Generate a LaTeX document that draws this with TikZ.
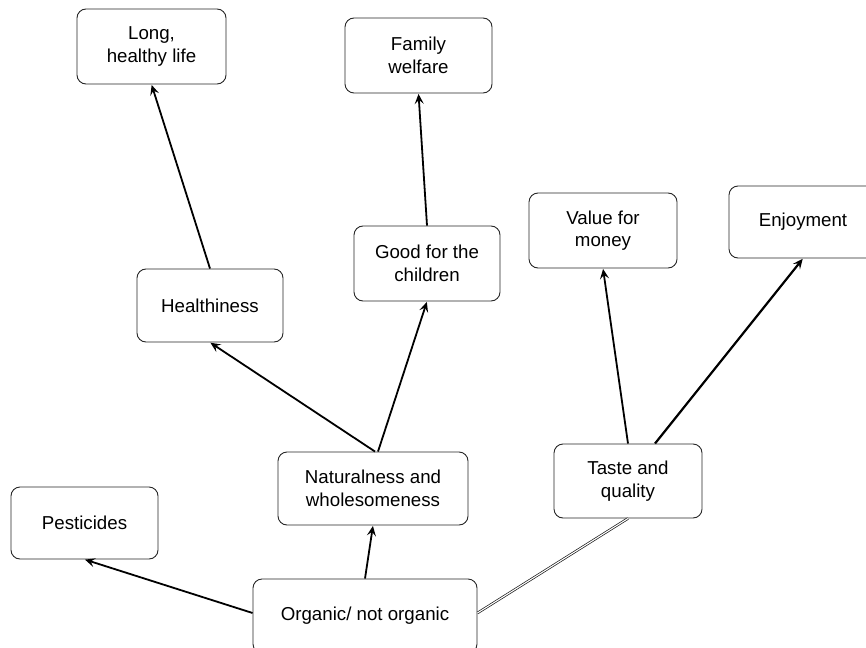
\documentclass[tikz,border=0pt]{standalone}
\usepackage{fontspec}
\setmainfont{Liberation Sans}
\usetikzlibrary{arrows.meta}
\begin{document}
\begin{tikzpicture}[x=1pt,y=-1pt,
  concept/.style={draw=black!85, line width=0.9pt, rounded corners=9pt,
    align=center, inner sep=0pt, font=\fontsize{18.7}{22.5}\selectfont},
  link/.style={line width=1.8pt, black,
    -{Stealth[length=10pt,width=9pt,inset=4pt]}, shorten >=0.5pt},
  twin/.style={double=white, double distance=1.1pt, line width=0.7pt, black!90}]
\useasboundingbox (0,0) rectangle (866,647);

% concept boxes
\node[concept, minimum width=149pt, minimum height=75pt] (long)   at (151.5,46.5) {Long,\\healthy life};
\node[concept, minimum width=147pt, minimum height=75pt] (fam)    at (418.5,55.5) {Family\\welfare};
\node[concept, minimum width=146pt, minimum height=75pt] (good)   at (427,263.5)  {Good for the\\children};
\node[concept, minimum width=146pt, minimum height=73pt] (health) at (210,305.5)  {Healthiness};
\node[concept, minimum width=148pt, minimum height=75pt] (value)  at (603,230.5)  {Value for\\money};
\node[concept, minimum width=148pt, minimum height=72pt] (enjoy)  at (803,222)    {Enjoyment};
\node[concept, minimum width=190pt, minimum height=73pt] (nat)    at (373,488.5)  {Naturalness and\\wholesomeness};
\node[concept, minimum width=148pt, minimum height=74pt] (taste)  at (628,481)    {Taste and\\quality};
\node[concept, minimum width=147pt, minimum height=72pt] (pest)   at (84.5,523)   {Pesticides};
\node[concept, minimum width=224pt, minimum height=74pt] (org)    at (365,616)    {Organic/ not organic};

% links between the concepts
\draw[link] ([yshift=3pt]org.west) -- (pest.south);
\draw[link] (org.north) -- (nat.south);
\draw[twin] ([yshift=3pt]org.east) -- (taste.south);
\draw[link] ([xshift=2pt]nat.north) -- (health.south);
\draw[link] ([xshift=5pt]nat.north) -- (good.south);
\draw[link] (health.north) -- (long.south);
\draw[link] (good.north) -- (fam.south);
\draw[link] (taste.north) -- (value.south);
\draw[link, line width=2.2pt] ([xshift=27pt]taste.north) -- (enjoy.south);
\end{tikzpicture}
\end{document}
